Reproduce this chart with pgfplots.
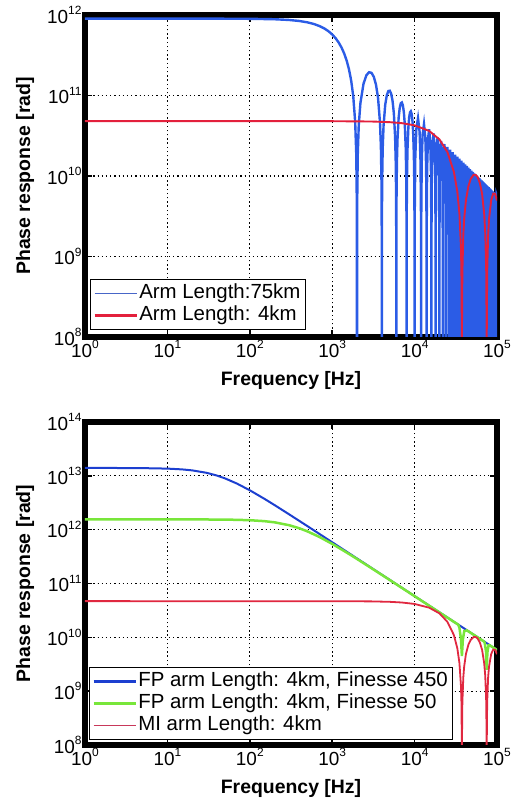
\documentclass[border=0pt]{standalone}
\usepackage{fontspec}
\setmainfont{Liberation Sans}
\usepackage{pgfplots}
\pgfplotsset{compat=1.18}
\definecolor{topblue}{HTML}{2B5CE6}
\definecolor{topred}{HTML}{E3203C}
\definecolor{legblue}{HTML}{4866C8}
\definecolor{fpblue}{HTML}{1C3FD0}
\definecolor{fpgreen}{HTML}{78E63A}
\definecolor{mired}{HTML}{E02840}
\definecolor{legmired}{HTML}{C8385A}
\newcommand\tp[1]{10\raisebox{0.85ex}{\fontsize{12}{12}\selectfont #1}}
\tikzset{gridst/.style={black, line width=1.3bp, dash pattern=on 1.3bp off 2.9bp}}
\pgfplotsset{
  every axis/.append style={
    scale only axis, width=412bp,
    xmin=1, xmax=1e5,
    xtick={1,10,100,1000,10000,100000},
    xticklabels={\tp{0},\tp{1},\tp{2},\tp{3},\tp{4},\tp{5}},
    axis line style={line width=5.5bp, black},
    tick style={black, line width=1.5bp},
    major tick length=7bp,
    tick label style={font=\fontsize{19}{19}\selectfont},
    label style={font=\bfseries\fontsize{19.5}{20}\selectfont},
    xlabel style={at={(axis description cs:0.5,-0.134)}, anchor=center},
    ylabel style={at={(axis description cs:-0.1456,0.5)}, anchor=center},
    legend cell align=left,
    legend image code/.code={\draw[##1] (0bp,0bp) -- (42bp,0bp);},
    legend style={at={(0,0)}, anchor=south west, draw=black, line width=0.8bp,
      fill=white, inner sep=3bp, font=\fontsize{20.5}{23}\selectfont,
      nodes={font=\fontsize{20.5}{23}\selectfont, inner sep=1.5bp, text height=14.5bp, text depth=4.5bp, anchor=west},
      row sep=0pt},
  }
}
\begin{document}
\begin{tikzpicture}
% ---------------- bottom axis ----------------
\begin{loglogaxis}[at={(0bp,0bp)}, anchor=south west, height=323bp,
  grid=major, grid style={gridst},
  xlabel={Frequency [Hz]}, ylabel={Phase response [rad]},
  ymin=1e8, ymax=1e14,
  ytick={1e8,1e9,1e10,1e11,1e12,1e13,1e14},
  yticklabels={\tp{8},\tp{9},\tp{10},\tp{11},\tp{12},\tp{13},\tp{14}},
  legend style={xshift=4bp, yshift=5bp}]
\pgfplotsinvokeforeach{10,100,1000,10000}{\draw[gridst] (axis cs:#1,1e8) -- (axis cs:#1,1e14);}
\pgfplotsinvokeforeach{1e9,1e10,1e11,1e12,1e13}{\draw[gridst] (axis cs:1,#1) -- (axis cs:1e5,#1);}
\addplot[forget plot, fpblue, line width=2bp] table {
1 1.4e13
2 1.3997e13
5 1.390e13
10 1.3613e13
15 1.3174e13
20 1.2623e13
30 1.1365e13
40 1.0103e13
50 8.967e12
70 7.165e12
100 5.388e12
150 3.750e12
200 2.858e12
300 1.9275e12
500 1.1635e12
700 8.325e11
1000 5.833e11
2000 2.919e11
5000 1.1676e11
10000 5.838e10
20000 2.919e10
50000 1.1676e10
100000 5.838e9
};
\addplot[forget plot, fpgreen, line width=2.5bp] table {
1 1.55e12
10 1.5495e12
30 1.5451e12
50 1.5364e12
70 1.5237e12
100 1.4977e12
150 1.4391e12
200 1.3677e12
300 1.2104e12
400 1.0601e12
500 9.30e11
700 7.319e11
1000 5.442e11
1500 3.759e11
2000 2.857e11
3000 1.9225e11
5000 1.1593e11
10000 5.808e10
20000 2.906e10
30000 1.9375e10
34000 1.709e10
35000 1.50e10
36500 9.5e9
37500 4.5e9
38500 9.0e9
40000 1.30e10
43000 1.35e10
50000 1.1625e10
60000 9.688e9
70000 8.304e9
71000 7.8e9
73500 5.5e9
75000 2.5e9
76500 5.3e9
79000 7.1e9
82000 7.09e9
90000 6.458e9
100000 5.812e9
};
\addplot[forget plot, mired, line width=1.8bp] table {
1 4.7e10
1000 4.695e10
3000 4.651e10
5000 4.564e10
7000 4.435e10
10000 4.169e10
15000 3.557e10
20000 2.790e10
25000 1.943e10
30000 1.099e10
33000 6.26e9
35000 3.33e9
36500 1.287e9
37000 6.35e8
37400 1.257e8
37500 1e6
37600 1.250e8
38000 6.19e8
39000 1.802e9
40000 2.914e9
42000 4.92e9
45000 7.33e9
48000 9.01e9
52000 1.014e10
55000 1.014e10
58000 9.57e9
62000 7.99e9
66000 5.82e9
70000 3.26e9
72000 1.938e9
74000 6.35e8
74800 1.255e8
75000 1e6
75200 1.250e8
76000 6.18e8
78000 1.789e9
80000 2.853e9
85000 4.91e9
90000 5.93e9
95000 5.88e9
100000 4.86e9
};
\addlegendimage{fpblue, line width=2.4bp}
\addlegendentry{FP arm Length: 4km, Finesse 450}
\addlegendimage{fpgreen, line width=2.4bp}
\addlegendentry{FP arm Length: 4km, Finesse 50}
\addlegendimage{legmired, line width=1.1bp}
\addlegendentry{MI arm Length: 4km}
\end{loglogaxis}
% ---------------- top axis ----------------
\begin{loglogaxis}[at={(0bp,408bp)}, anchor=south west, height=322bp,
  grid=major, grid style={gridst},
  xlabel={Frequency [Hz]}, ylabel={Phase response [rad]},
  ymin=1e8, ymax=1e12,
  ytick={1e8,1e9,1e10,1e11,1e12},
  yticklabels={\tp{8},\tp{9},\tp{10},\tp{11},\tp{12}},
  legend style={xshift=5bp, yshift=7bp}]
\pgfplotsinvokeforeach{10,100,1000,10000}{\draw[gridst] (axis cs:#1,1e8) -- (axis cs:#1,1e12);}
\pgfplotsinvokeforeach{1e9,1e10,1e11}{\draw[gridst] (axis cs:1,#1) -- (axis cs:1e5,#1);}
\addplot[forget plot, topblue, line width=2.4bp] table {
1 9.0e11
10 9.0e11
30 8.997e11
50 8.991e11
100 8.963e11
200 8.853e11
300 8.671e11
400 8.42e11
500 8.10e11
600 7.73e11
700 7.29e11
800 6.81e11
900 6.288e11
1000 5.73e11
1100 5.145e11
1200 4.54e11
1300 3.927e11
1400 3.31e11
1500 2.701e11
1600 2.105e11
1700 1.530e11
1800 9.84e10
1900 4.72e10
1960 1.836e10
1990 4.52e9
2000 1e6
2010 4.478e9
2040 1.764e10
2100 4.268e10
2200 8.048e10
2400 1.4033e11
2600 1.7828e11
2800 1.9462e11
3000 1.9099e11
3200 1.7029e11
3400 1.3633e11
3600 9.355e10
3800 4.659e10
3900 2.298e10
3960 9.085e9
3990 2.256e9
4000 1e6
4010 2.245e9
4040 8.905e9
4100 2.186e10
4200 4.216e10
4400 7.654e10
4600 1.0077e11
4800 1.1353e11
5000 1.1459e11
5200 1.0479e11
5400 8.584e10
5600 6.014e10
5800 3.053e10
5900 1.519e10
5960 6.036e9
5990 1.503e9
6000 1e6
6010 1.498e9
6040 5.956e9
6100 1.469e10
6200 2.856e10
6400 5.262e10
6600 7.023e10
6800 8.013e10
7000 8.185e10
7200 7.568e10
7400 6.264e10
7600 4.431e10
7800 2.270e10
7900 1.1345e10
7960 4.520e9
7990 1.1266e9
8000 1e6
8010 1.1238e9
8040 4.475e9
8100 1.1065e10
8200 2.159e10
8400 4.009e10
8600 5.390e10
8800 6.192e10
9000 6.366e10
9200 5.923e10
9400 4.931e10
9600 3.508e10
9800 1.807e10
9900 9.053e9
9960 3.612e9
9990 9.01e8
10000 1e6
10040 3.583e9
10200 1.736e10
10500 3.859e10
11000 5.209e10
11500 3.523e10
11800 1.5005e10
11960 3.008e9
12000 1e6
12040 2.988e9
12200 1.4513e10
12500 3.241e10
13000 4.407e10
13500 3.001e10
13800 1.283e10
13960 2.577e9
14000 1e6
14040 2.562e9
14200 1.2469e10
14500 2.794e10
15000 3.820e10
15500 2.614e10
15800 1.1206e10
15960 2.254e9
16000 1e6
16040 2.243e9
16200 1.0929e10
16500 2.455e10
17000 3.370e10
17500 2.315e10
17800 9.947e9
17960 2.003e9
18000 1e6
18040 1.994e9
18200 9.728e9
18500 2.190e10
19000 3.016e10
19500 2.078e10
19800 8.942e9
19960 1.802e9
20000 1e6
20040 1.795e9
20200 8.765e9
20500 1.976e10
21000 2.728e10
21500 1.884e10
21800 8.122e9
21960 1.638e9
22000 1e6
22040 1.632e9
22200 7.976e9
22500 1.8007e10
23000 2.491e10
23500 1.724e10
23800 7.439e9
23960 1.5015e9
24000 1e6
24040 1.4965e9
24200 7.316e9
24500 1.6536e10
25000 2.292e10
25500 1.5888e10
25800 6.863e9
25960 1.3858e9
26000 1e6
27000 2.122e10
28000 1e7
29000 1.9757e10
30000 1e7
31000 1.8483e10
32000 1e7
33000 1.7362e10
34000 1e7
35000 1.6370e10
36000 1e7
37000 1.5485e10
38000 1e7
39000 1.4691e10
40000 1e7
41000 1.3975e10
42000 1e7
43000 1.3325e10
44000 1e7
45000 1.2732e10
46000 1e7
47000 1.2191e10
48000 1e7
49000 1.1693e10
50000 1e7
51000 1.1234e10
52000 1e7
53000 1.0811e10
54000 1e7
55000 1.0418e10
56000 1e7
57000 1.0052e10
58000 1e7
59000 9.711e9
60000 1e7
61000 9.393e9
62000 1e7
63000 9.095e9
64000 1e7
65000 8.815e9
66000 1e7
67000 8.552e9
68000 1e7
69000 8.304e9
70000 1e7
71000 8.070e9
72000 1e7
73000 7.849e9
74000 1e7
75000 7.639e9
76000 1e7
77000 7.441e9
78000 1e7
79000 7.253e9
80000 1e7
81000 7.074e9
82000 1e7
83000 6.903e9
84000 1e7
85000 6.741e9
86000 1e7
87000 6.586e9
88000 1e7
89000 6.438e9
90000 1e7
91000 6.296e9
92000 1e7
93000 6.161e9
94000 1e7
95000 6.031e9
96000 1e7
97000 5.907e9
98000 1e7
99000 5.787e9
100000 5.6e9
};
\addplot[forget plot, topred, line width=1.9bp] table {
1 4.8e10
1000 4.794e10
3000 4.750e10
5000 4.661e10
7000 4.530e10
10000 4.258e10
15000 3.633e10
20000 2.849e10
25000 1.985e10
30000 1.123e10
33000 6.39e9
35000 3.40e9
36500 1.314e9
37000 6.49e8
37400 1.284e8
37500 1e6
37600 1.277e8
38000 6.32e8
39000 1.841e9
40000 2.976e9
42000 5.02e9
45000 7.48e9
48000 9.20e9
52000 1.036e10
55000 1.036e10
58000 9.77e9
62000 8.16e9
66000 5.94e9
70000 3.33e9
72000 1.979e9
74000 6.48e8
74800 1.282e8
75000 1e6
75200 1.277e8
76000 6.31e8
78000 1.827e9
80000 2.914e9
85000 5.01e9
90000 6.05e9
95000 6.00e9
100000 4.96e9
};
\addlegendimage{legblue, line width=1.3bp}
\addlegendentry{Arm Length:75km}
\addlegendimage{topred, line width=2.4bp}
\addlegendentry{Arm Length: 4km}
\end{loglogaxis}
\pgfresetboundingbox
\path[use as bounding box] (-85bp,-58bp) rectangle (432bp,745bp);
\end{tikzpicture}
\end{document}
